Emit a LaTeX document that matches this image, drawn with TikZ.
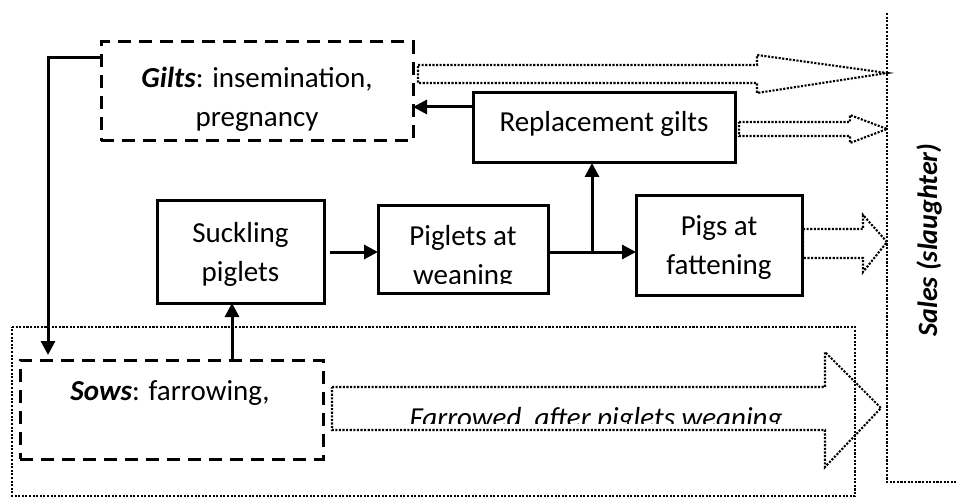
\documentclass[tikz,border=0pt]{standalone}
\usepackage{fontspec}
\setmainfont{Carlito}
\usetikzlibrary{arrows.meta}
\begin{document}
\begin{tikzpicture}[x=0.5pt,y=-0.5pt,
  every node/.style={inner sep=0pt, outer sep=0pt},
  txt/.style={font=\fontsize{14.5}{19.5}\selectfont, align=center},
  solidbox/.style={draw, line width=1.5pt},
  dashbox/.style={draw, line width=1.5pt, dash pattern=on 6.5pt off 4pt},
  dotline/.style={line width=1.05pt, dash pattern=on 1.05pt off 0.75pt},
  fatarrow/.style={line width=1.05pt, dash pattern=on 1.05pt off 0.75pt, line join=miter},
  conn/.style={line width=1.5pt, -{Triangle[length=7pt,width=7pt]}},
  plain/.style={line width=1.5pt}]
\useasboundingbox (0,0) rectangle (956,497);

% frame of the sows' area and the sales line
\draw[dotline] (12,327) -- (855,327) -- (855,496) -- (12,496) -- cycle;
\draw[dotline] (887,13) -- (887,482) -- (956,482);
\node[font=\fontsize{14}{16}\selectfont\bfseries\itshape, rotate=90] (sales) at (929,240) {Sales (slaughter)};

% boxes
\node[dashbox, minimum width=156pt, minimum height=49.5pt] (gilts) at (257,91.5) {};
\node[txt] (giltstxt) at (257,99) {\textbf{\textit{Gilts}}: insemination,\\pregnancy};

\node[solidbox, minimum width=131pt, minimum height=35pt] (repl) at (604,128) {};
\node[txt] (repltxt) at (604,124) {Replacement gilts};

\node[solidbox, minimum width=83.5pt, minimum height=51.5pt] (suckling) at (240.5,251.5) {};
\node[txt] (sucklingtxt) at (240.5,254) {Suckling\\piglets};

\node[solidbox, minimum width=85pt, minimum height=44pt] (weaning) at (463,249) {};
\begin{scope}
  \clip (378,205) rectangle (548,283);
  \node[txt] (weaningtxt) at (463,257) {Piglets at\\weaning};
\end{scope}

\node[solidbox, minimum width=83pt, minimum height=50pt] (fatten) at (719,245) {};
\node[txt] (fattentxt) at (719,248) {Pigs at\\fattening};

\node[dashbox, minimum width=151.5pt, minimum height=49.5pt] (sows) at (171.5,409.5) {};
\node[txt] (sowstxt) at (170,393) {\textbf{\textit{Sows}}: farrowing,};

% wide dotted arrows towards sales
\draw[fatarrow] (418,65) -- (757,65) -- (757,55) -- (887,73) -- (757,93) -- (757,83) -- (418,83) -- cycle;
\draw[fatarrow] (739,122) -- (850,122) -- (850,115) -- (887,129) -- (850,143) -- (850,136) -- (739,136) -- cycle;
\draw[fatarrow] (803,229) -- (863,229) -- (863,215) -- (887,242) -- (863,272) -- (863,258) -- (803,258) -- cycle;
\draw[fatarrow] (332,387) -- (825,387) -- (825,352) -- (881,408) -- (825,467) -- (825,430) -- (332,430) -- cycle;
\begin{scope}
  \clip (340,390) rectangle (820,423);
  \node[font=\fontsize{14.5}{17}\selectfont\itshape, anchor=base] (farrowed) at (596,427) {Farrowed\ \ after piglets weaning};
\end{scope}

% connectors
\coordinate (gk) at (48,58);
\coordinate (sx) at (232,0);
\coordinate (fy) at (0,252);
\coordinate (jx) at (592,252);
\coordinate (ry) at (0,107);
\draw[conn, shorten >=2.5pt] (gilts.west |- gk) -- (gk) -- (gk |- sows.north);
\draw[conn] (sows.north -| sx) -- (suckling.south -| sx);
\draw[conn, shorten <=3pt] (suckling.east |- fy) -- (weaning.west |- fy);
\draw[conn] (weaning.east |- fy) -- (fatten.west |- fy);
\draw[conn] (jx) -- (jx |- repl.south);
\draw[conn] (repl.west |- ry) -- (gilts.east |- ry);
\end{tikzpicture}
\end{document}
